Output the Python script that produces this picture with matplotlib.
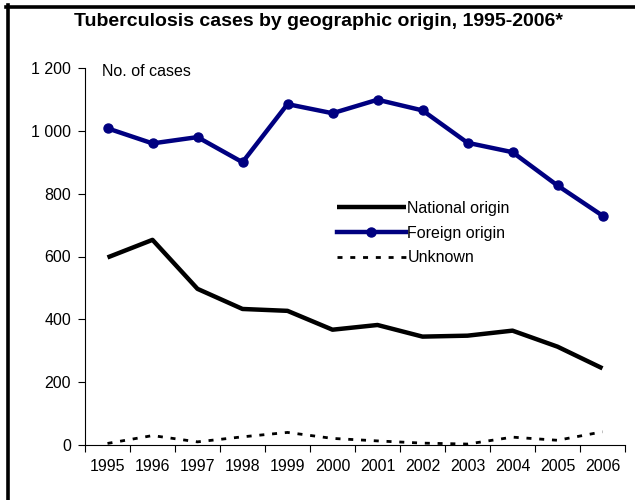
import matplotlib.pyplot as plt
from matplotlib.lines import Line2D
from matplotlib.ticker import FixedLocator, FuncFormatter

# data
years = ['1995', '1996', '1997', '1998', '1999', '2000',
         '2001', '2002', '2003', '2004', '2005', '2006']
national = [597, 653, 497, 433, 427, 367, 382, 345, 348, 364, 313, 244]
foreign = [1008, 960, 980, 900, 1085, 1056, 1099, 1065, 962, 932, 826, 730]
unknown = [5, 30, 10, 26, 40, 21, 13, 6, 3, 25, 15, 42]

plt.rcParams['font.family'] = ['Liberation Sans', 'DejaVu Sans']

fig = plt.figure(figsize=(6.35, 5.0), dpi=100)
ax = fig.add_axes([85 / 635, 1 - 445 / 500, 540 / 635, 377 / 500])

x = list(range(len(years)))
ax.plot(x, national, color='black', lw=3.2, solid_capstyle='butt',
        label='National origin')
ax.plot(x, foreign, color='#000080', lw=3.2, marker='o', markersize=6.5,
        label='Foreign origin')
ax.plot(x, unknown, color='black', lw=2.0, dashes=(1.8, 2.8),
        label='Unknown')

ax.set_xlim(-0.5, len(years) - 0.5)
ax.set_ylim(0, 1200)

# category axis: tick marks between years, labels centred on years
ax.xaxis.set_major_locator(FixedLocator([i - 0.5 for i in range(len(years) + 1)]))
ax.xaxis.set_major_formatter(FuncFormatter(lambda v, p: ''))
ax.xaxis.set_minor_locator(FixedLocator(x))
ax.set_xticks(x, years, minor=True)
ax.tick_params(axis='x', which='major', direction='out', length=5, width=0.8)
ax.tick_params(axis='x', which='minor', length=0, pad=10, labelsize=11.5)

ax.set_yticks(range(0, 1201, 200))
ax.yaxis.set_major_formatter(FuncFormatter(lambda v, p: f'{int(v):,}'.replace(',', ' ')))
ax.tick_params(axis='y', direction='out', length=5, width=0.8, pad=5, labelsize=11.5)

for s in ['top', 'right']:
    ax.spines[s].set_visible(False)
for s in ['left', 'bottom']:
    ax.spines[s].set_linewidth(0.8)

ax.text(102 / 635, 1 - 71 / 500, 'No. of cases', transform=fig.transFigure,
        fontsize=11.5, va='center', ha='left')

ax.legend(loc='upper left', bbox_to_anchor=(337 / 635, 1 - 201 / 500),
          bbox_transform=fig.transFigure, frameon=False, fontsize=11.5,
          handlelength=4.3, handletextpad=0.1, labelspacing=0.6,
          borderpad=0, borderaxespad=0)

fig.text(318 / 635, 1 - 22 / 500, 'Tuberculosis cases by geographic origin, 1995-2006*',
         ha='center', va='center', fontsize=14, fontweight='bold')

# thick frame on top and left edge
fig.add_artist(Line2D([6 / 635, 1], [1 - 6.5 / 500, 1 - 6.5 / 500],
                      transform=fig.transFigure, color='black', lw=2.6))
fig.add_artist(Line2D([7.5 / 635, 7.5 / 635], [0, 1 - 5 / 500],
                      transform=fig.transFigure, color='black', lw=2.6))

fig.savefig('out.png', dpi=100)
